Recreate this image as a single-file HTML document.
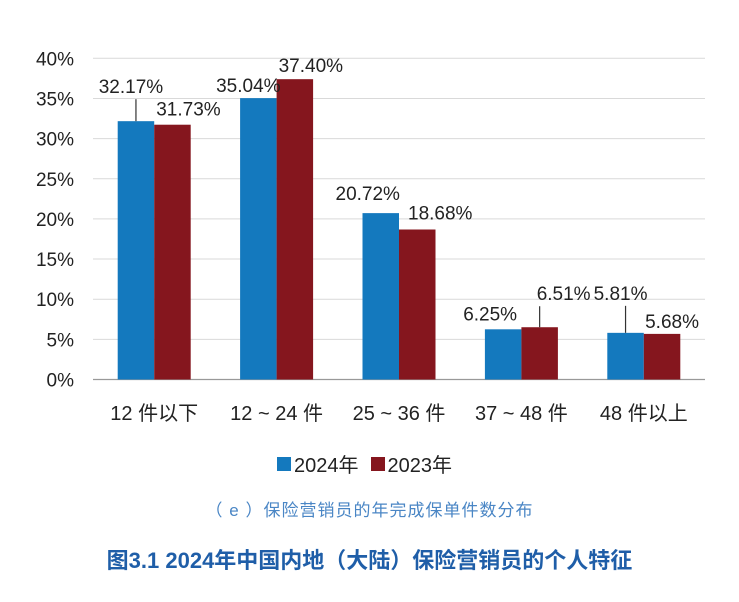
<!DOCTYPE html>
<html><head><meta charset="utf-8">
<style>
body{margin:0;background:#fff;width:739px;height:597px;overflow:hidden;font-family:"Liberation Sans","Noto Sans CJK SC",sans-serif;}
svg text{font-family:"Liberation Sans","Noto Sans CJK SC",sans-serif;}
</style></head>
<body>
<svg id="chart" width="739" height="597" xmlns="http://www.w3.org/2000/svg"></svg>
<script>
const categories = ["12 件以下","12 ~ 24 件","25 ~ 36 件","37 ~ 48 件","48 件以上"];
const series2024 = [32.17,35.04,20.72,6.25,5.81];
const series2023 = [31.73,37.40,18.68,6.51,5.68];
const yTicks = [0,5,10,15,20,25,30,35,40];
// label placement styles (pixel offsets, not data): [dx, dy, leader]
const lab24 = [[-5,-28,true],[-10,-6,false],[-13,-13,false],[-13,-9,false],[-5,-33,true]];
const lab23 = [[16,-9,false],[16,-7,false],[23,-10,false],[24,-27,true],[10,-6,false]];

const svg=document.getElementById('chart');
const NS="http://www.w3.org/2000/svg";
const x0=93, step=122.4, y0=379.5, ppu=8.03, bw=36.5;
const xc=i=>x0+step*(i+0.5);
const y=v=>y0-v*ppu;
function el(t,a,txt){const e=document.createElementNS(NS,t);for(const k in a)e.setAttribute(k,a[k]);if(txt!==undefined)e.textContent=txt;svg.appendChild(e);return e;}

yTicks.forEach(t=>{
  const g=el('line',{x1:x0,x2:705,y1:y(t),y2:y(t),stroke:t===0?'#999':'#d9d9d9','stroke-width':t===0?1.2:1});
  
  
  const l=el('text',{x:74,y:y(t)+7,'text-anchor':'end','font-size':19,fill:'#222'},t+'%');
  
  
});
categories.forEach((c,i)=>{
  const b1=el('rect',{x:xc(i)-bw,y:y(series2024[i]),width:bw,height:y0-y(series2024[i]),fill:'#1479be'});
  
  
  const b2=el('rect',{x:xc(i),y:y(series2023[i]),width:bw,height:y0-y(series2023[i]),fill:'#85161e'});
  
  
  const cl=el('text',{x:xc(i),y:420,'text-anchor':'middle','font-size':20,fill:'#222'},c);
  
  
  [[series2024,lab24,-bw/2,'2024'],[series2023,lab23,bw/2,'2023']].forEach(([s,L,off,n])=>{
    const [dx,dy,lead]=L[i];
    const bx=xc(i)+off, by=y(s[i]);
    const tx=bx+dx, ty=by+dy;
    const t=el('text',{x:tx,y:ty,'text-anchor':'middle','font-size':19,fill:'#222'},s[i].toFixed(2)+'%');
    
    
    if(lead){
      const ln=el('line',{x1:bx,x2:bx,y1:ty+6,y2:by,stroke:'#333','stroke-width':1.2});
      
      
    }
  });
});
</script>
<div style="position:absolute;left:277px;top:449px;font-size:20px;color:#222;display:flex;align-items:center;">
  <span style="width:14px;height:14px;background:#1479be;display:inline-block;margin-right:3px"></span>
  <span>2024年</span>
  <span style="width:14px;height:14px;background:#85161e;display:inline-block;margin:0 3px 0 12px"></span>
  <span>2023年</span>
</div>
<div style="position:absolute;left:0;width:739px;top:496px;text-align:center;font-size:17px;letter-spacing:1px;color:#4a86c5;">（ e ）保险营销员的年完成保单件数分布</div>
<div style="position:absolute;left:0;width:739px;top:543px;text-align:center;font-size:22px;font-weight:bold;color:#1f5ea8;">图3.1 2024年中国内地（大陆）保险营销员的个人特征</div>
</body></html>
